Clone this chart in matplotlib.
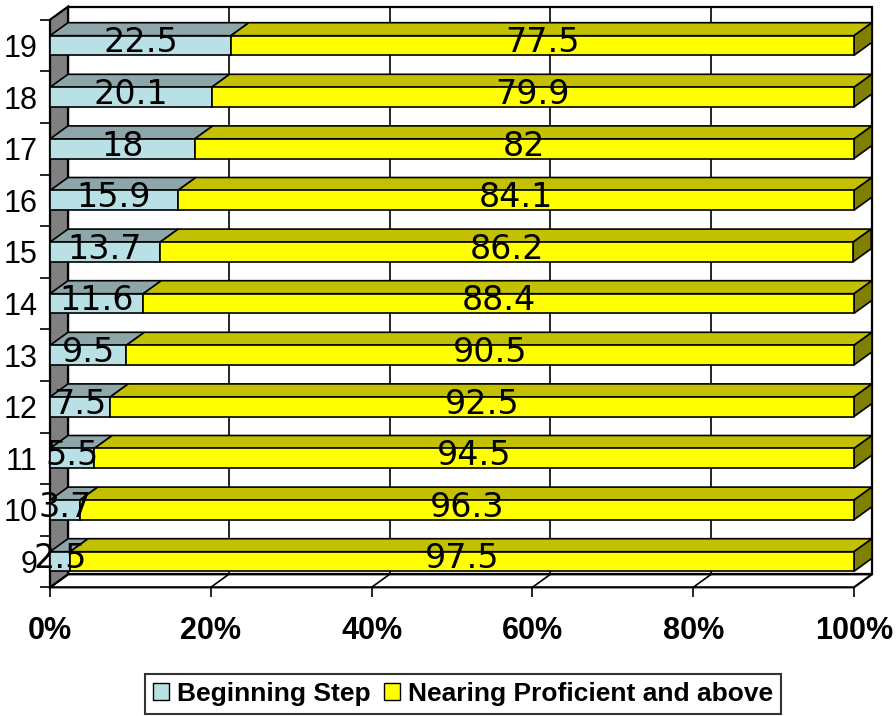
import matplotlib
matplotlib.use("Agg")
import matplotlib.pyplot as plt
from matplotlib.patches import Polygon, Patch

# Share of students per grade, in percent
grades = ['9', '10', '11', '12', '13', '14', '15', '16', '17', '18', '19']
beginning = [2.5, 3.7, 5.5, 7.5, 9.5, 11.6, 13.7, 15.9, 18, 20.1, 22.5]
nearing = [97.5, 96.3, 94.5, 92.5, 90.5, 88.4, 86.2, 84.1, 82, 79.9, 77.5]
series_names = ['Beginning Step', 'Nearing Proficient and above']

# face colours: front, top, side
colors = {
    'Beginning Step': ('#B9E0E4', '#8CA6A9', '#5E7E82'),
    'Nearing Proficient and above': ('#FFFF00', '#C2C000', '#808000'),
}

fig = plt.figure(figsize=(8.96, 7.16), dpi=100)
ax = fig.add_axes([50 / 896, (716 - 587.3) / 716, 804 / 896, 567.6 / 716])
ax.set_xlim(0, 100)
ax.set_ylim(-0.5, len(grades) - 0.5)
for s in ax.spines.values():
    s.set_visible(False)

# depth of the 3d box in data units
DX = 18 / 804 * 100
DY = 13 / 51.6
H = 0.19
ytop = len(grades) - 0.5
ybot = -0.5


def poly(pts, fc, z, lw=1.2):
    ax.add_patch(Polygon(pts, closed=True, facecolor=fc, edgecolor='black',
                         linewidth=lw, zorder=z, clip_on=False))


# back wall, floor and left wall
poly([(DX, ybot + DY), (100 + DX, ybot + DY), (100 + DX, ytop + DY), (DX, ytop + DY)], 'white', 0, 1.6)
for g in [20, 40, 60, 80]:
    ax.plot([g + DX, g + DX], [ybot + DY, ytop + DY], color='black', lw=1.2, zorder=0.5, clip_on=False)
poly([(0, ybot), (100, ybot), (100 + DX, ybot + DY), (DX, ybot + DY)], 'white', 1, 1.6)
for g in [20, 40, 60, 80]:
    ax.plot([g, g + DX], [ybot, ybot + DY], color='black', lw=1.2, zorder=1.2, clip_on=False)
poly([(0, ybot), (DX, ybot + DY), (DX, ytop + DY), (0, ytop)], '#808080', 1.5, 1.6)

# stacked 3d bars
for i, grade in enumerate(grades):
    left = 0
    for name, vals in zip(series_names, [beginning, nearing]):
        v = vals[i]
        front, top, side = colors[name]
        x0, x1 = left, left + v
        poly([(x0, i + H), (x1, i + H), (x1 + DX, i + H + DY), (x0 + DX, i + H + DY)], top, 2)
        poly([(x0, i - H), (x1, i - H), (x1, i + H), (x0, i + H)], front, 3)
        if name == series_names[-1]:
            poly([(x1, i - H), (x1 + DX, i - H + DY), (x1 + DX, i + H + DY), (x1, i + H)], side, 2)
        ax.text((x0 + x1) / 2, i + 0.05, f'{v:g}', ha='center', va='center',
                fontsize=24, family='DejaVu Sans', zorder=6, clip_on=False)
        left = x1

# axes ticks
ax.set_xticks([0, 20, 40, 60, 80, 100])
ax.set_xticklabels(['0%', '20%', '40%', '60%', '80%', '100%'],
                   fontsize=22, fontweight='bold', family='Liberation Sans')
ax.tick_params(axis='x', direction='out', length=7, width=1.2, pad=14)
ax.set_yticks([k - 0.5 for k in range(len(grades) + 1)])
ax.set_yticklabels([])
ax.set_yticks(range(len(grades)), minor=True)
ax.set_yticklabels(grades, minor=True, fontsize=22, family='Liberation Sans')
ax.tick_params(axis='y', which='major', direction='out', length=7, width=1.2)
ax.tick_params(axis='y', which='minor', length=0, pad=9)

handles = [Patch(facecolor=colors[n][0], edgecolor='black', linewidth=1.0) for n in series_names]
leg = fig.legend(handles, series_names, loc='lower center', bbox_to_anchor=(463 / 896, 2 / 716),
                 ncol=2, frameon=True, fancybox=False, handlelength=0.6, handleheight=0.6,
                 handletextpad=0.3, columnspacing=0.5, borderpad=0.3, borderaxespad=0,
                 prop={'family': 'Liberation Sans', 'weight': 'bold', 'size': 19})
leg.get_frame().set_edgecolor('black')
leg.get_frame().set_linewidth(1.5)

fig.savefig('out.png', dpi=100)
